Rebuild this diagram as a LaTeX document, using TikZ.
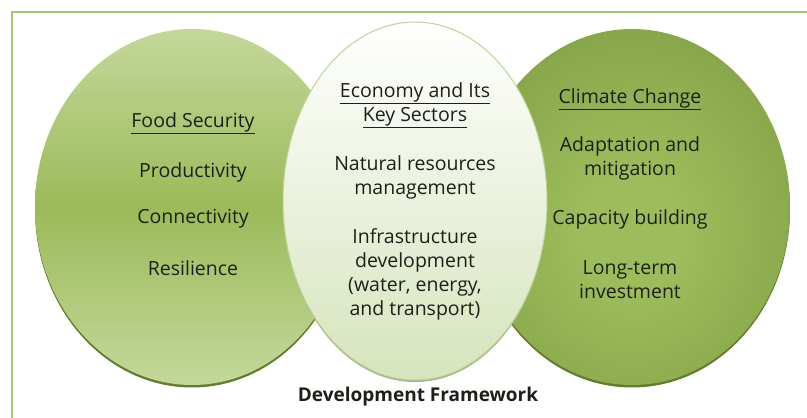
\documentclass[tikz,border=0pt]{standalone}
\usepackage{fontspec}
\setmainfont{Open Sans}
\usetikzlibrary{shapes.geometric}

\definecolor{fsLight}{RGB}{196,215,155}
\definecolor{fsDark}{RGB}{155,187,89}
\definecolor{ccLight}{RGB}{157,189,92}
\definecolor{ccDark}{RGB}{110,140,52}
\definecolor{ecBot}{RGB}{214,228,188}
\definecolor{ecRim}{RGB}{190,212,150}
\definecolor{ecShade}{RGB}{165,180,140}
\definecolor{rimGreen}{RGB}{98,125,44}
\definecolor{frameGreen}{RGB}{165,198,118}
\definecolor{txt}{RGB}{28,32,24}

\pgfdeclareradialshading{ccglow}{\pgfpoint{0bp}{-4bp}}{color(0bp)=(ccLight); color(8bp)=(ccLight); color(52bp)=(ccDark); color(100bp)=(ccDark)}

\tikzset{
  blob/.style={ellipse, inner sep=0pt},
  lbl/.style={align=center, text=txt, font=\fontsize{19.5}{24}\selectfont},
}

\begin{document}
\begin{tikzpicture}[x=1pt,y=-1pt]
  \useasboundingbox (0,0) rectangle (807,418);
  % frame
  \draw[frameGreen, line width=1.3pt] (12,418) -- (12,12) -- (807,12);

  % food security
  \fill[rimGreen] (192,209.5) ellipse (157 and 178);
  \node[blob, minimum width=314pt, minimum height=356pt,
        top color=fsLight, bottom color=fsLight, middle color=fsDark] (food) at (192,207) {};

  % climate change
  \fill[rimGreen] (632,209.5) ellipse (158 and 178);
  \node[blob, minimum width=316pt, minimum height=356pt, shading=ccglow] (climate) at (632,207) {};

  % economy
  \fill[ecShade] (415,203) ellipse (132 and 179);
  \node[blob, minimum width=264pt, minimum height=358pt, draw=ecRim, line width=1pt,
        top color=white, bottom color=ecBot] (economy) at (415,201) {};

  % labels
  \node[lbl] (fsHead) at (193,123) {\underline{Food Security}};
  \node[lbl] (fsProd) at (193,172) {Productivity};
  \node[lbl] (fsConn) at (193,219) {Connectivity};
  \node[lbl] (fsRes) at (193,268) {Resilience};

  \node[lbl] (ecHead) at (415,105) {\underline{Economy and Its}\\\underline{Key Sectors}};
  \node[lbl] (ecNat) at (415,177) {Natural resources\\management};
  \node[lbl] (ecInf) at (415,274) {Infrastructure\\development\\(water, energy,\\and transport)};

  \node[lbl] (ccHead) at (630,99) {\underline{Climate Change}};
  \node[lbl] (ccAdapt) at (630,158) {Adaptation and\\mitigation};
  \node[lbl] (ccCap) at (630,219) {Capacity building};
  \node[lbl] (ccLong) at (630,280) {Long-term\\investment};

  \node[lbl, font=\fontsize{19}{22}\selectfont\bfseries] (title) at (418,397) {Development Framework};
\end{tikzpicture}
\end{document}
